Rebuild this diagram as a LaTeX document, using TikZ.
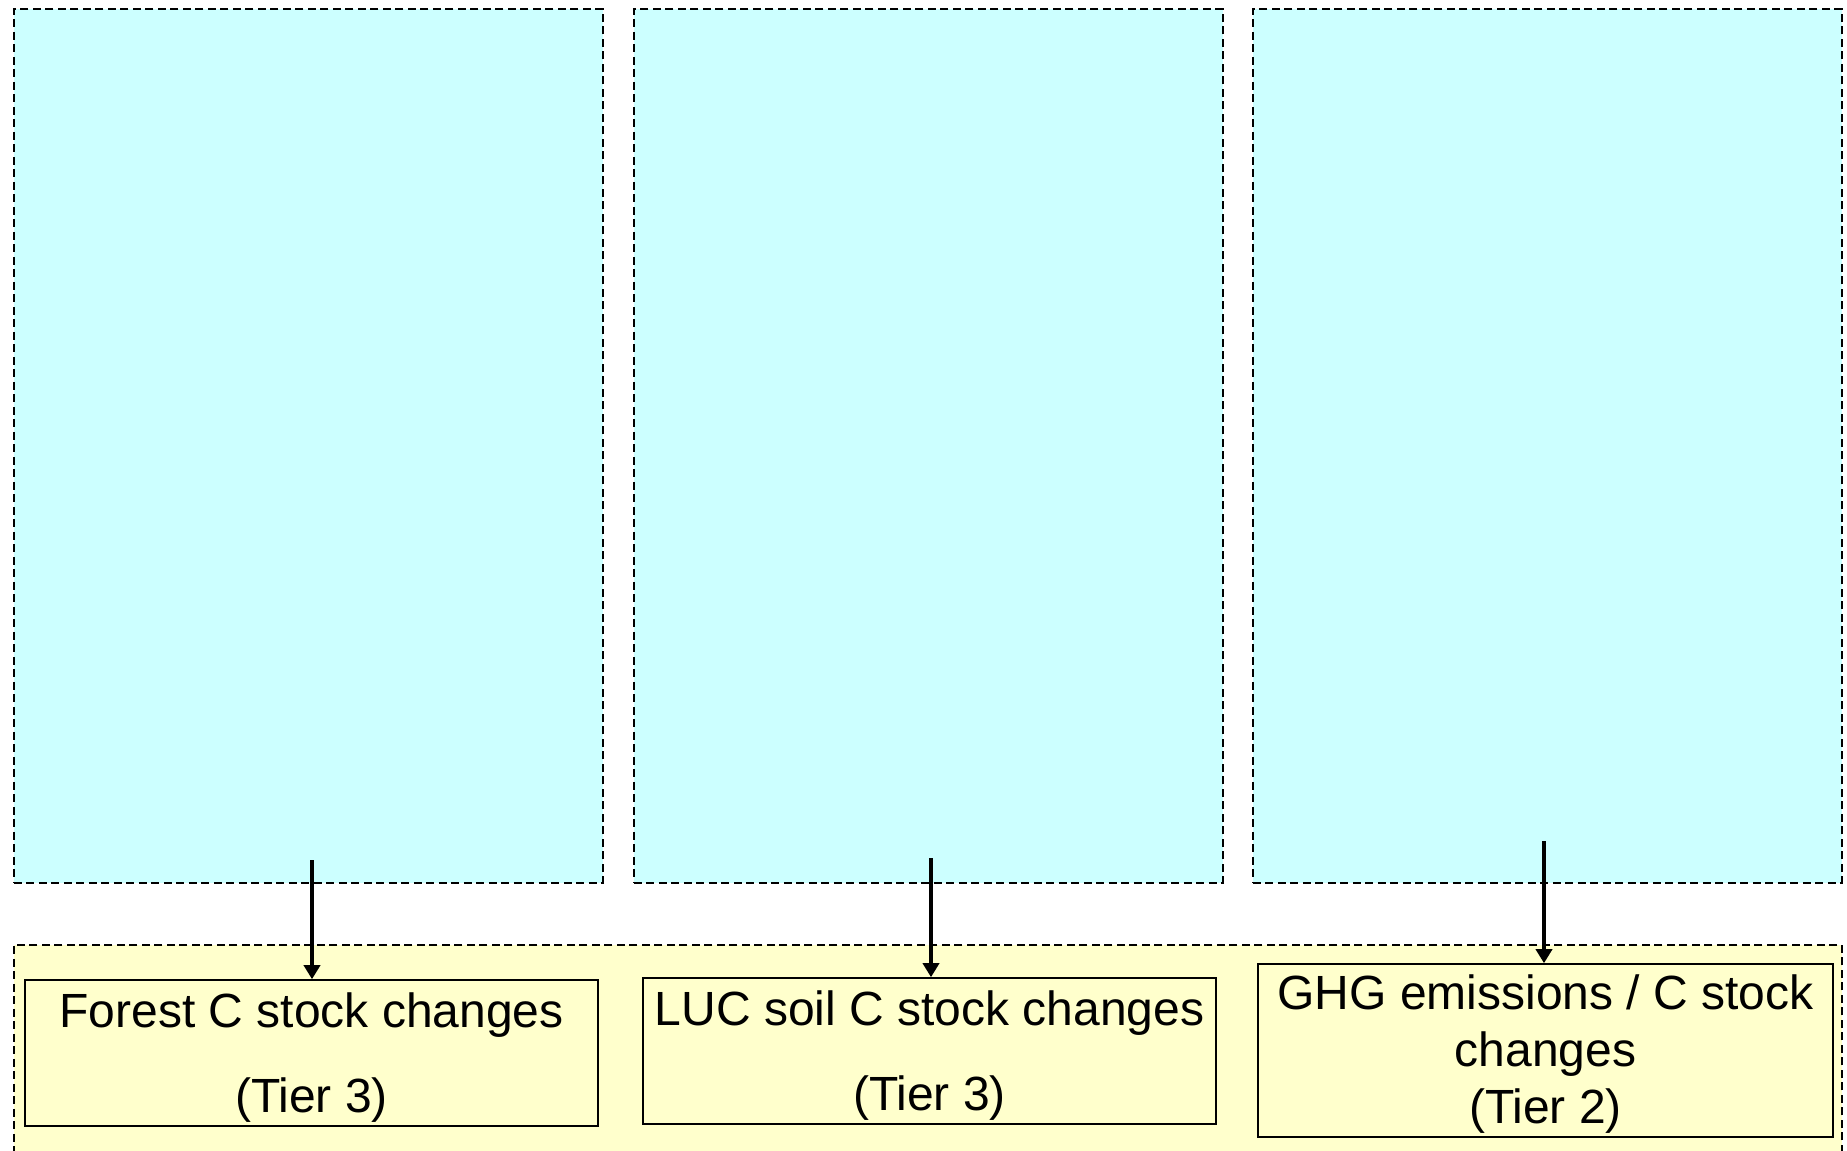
\documentclass[tikz,border=0pt]{standalone}
\usepackage{fontspec}
\setmainfont{Liberation Sans}
\usetikzlibrary{arrows.meta}
\definecolor{paneblue}{HTML}{CCFFFF}
\definecolor{paneyellow}{HTML}{FFFFCC}
\tikzset{
  pane/.style={draw=black, line width=1.6pt, dash pattern=on 8pt off 4.5pt, anchor=north west, inner sep=0pt},
  result/.style={draw=black, line width=1.6pt, fill=paneyellow, inner sep=0pt},
  resulttext/.style={inner sep=0pt, align=center, font=\fontsize{48}{57}\selectfont},
  flow/.style={line width=4pt, -{Triangle[width=16pt,length=14pt]}}
}
\begin{document}
\begin{tikzpicture}[x=1pt,y=-1pt]
\useasboundingbox (0,0) rectangle (1847,1151);
\clip (0,0) rectangle (1847,1151);
\fill[white] (0,0) rectangle (1847,1151);
% three input panes
\node[pane, fill=paneblue, minimum width=589pt, minimum height=874pt] (b1) at (13,8) {};
\node[pane, fill=paneblue, minimum width=589pt, minimum height=874pt] (b2) at (633,8) {};
\node[pane, fill=paneblue, minimum width=589pt, minimum height=874pt] (b3) at (1252,8) {};
% output band
\node[pane, fill=paneyellow, minimum width=1828pt, minimum height=230pt] (band) at (13,944) {};
% result boxes
\node[result, minimum width=573pt, minimum height=146pt] (r1) at (311.5,1053) {};
\node[result, minimum width=573pt, minimum height=146pt] (r2) at (929.5,1051) {};
\node[result, minimum width=575pt, minimum height=173pt] (r3) at (1545.5,1050.5) {};
% their labels
\node[resulttext] (t1) at ([yshift=-5pt]r1.center) {Forest C stock changes\\[28pt](Tier 3)};
\node[resulttext] (t2) at ([yshift=-5pt]r2.center) {LUC soil C stock changes\\[28pt](Tier 3)};
\node[resulttext] (t3) at ([yshift=-4pt]r3.center) {GHG emissions / C stock\\changes\\(Tier 2)};
% arrow starts inside the panes
\coordinate (s1) at (312,860);
\coordinate (s2) at (931,858);
\coordinate (s3) at (1544,841);
\draw[flow] (s1) -- (r1.north -| s1);
\draw[flow] (s2) -- (r2.north -| s2);
\draw[flow] (s3) -- (r3.north -| s3);
\end{tikzpicture}
\end{document}
